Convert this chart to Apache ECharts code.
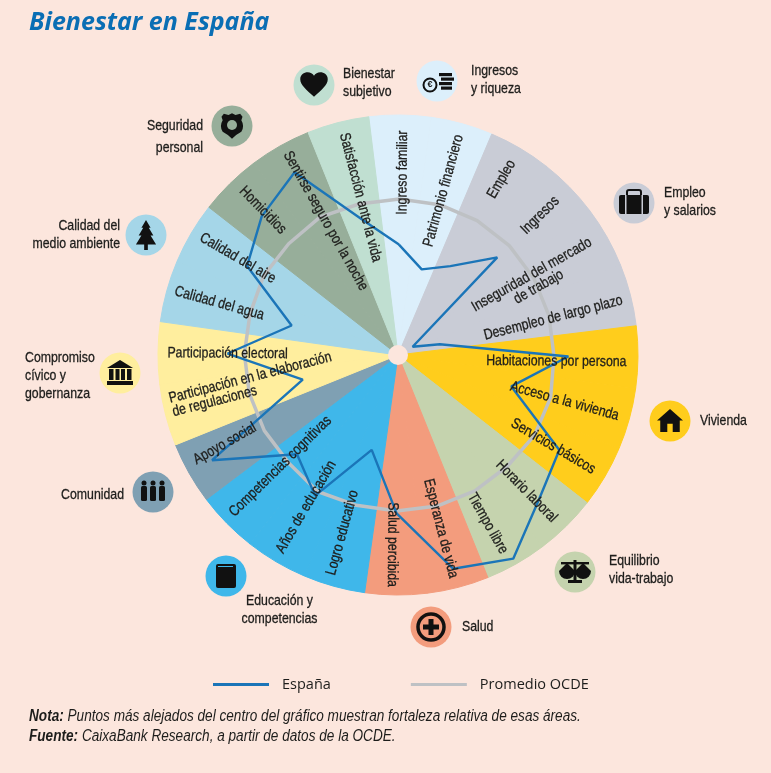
<!DOCTYPE html>
<html><head><meta charset="utf-8">
<script src="https://cdn.jsdelivr.net/npm/echarts@6/dist/echarts.min.js"></script>
<style>html,body{margin:0;padding:0;background:#FCE6DD}#c{width:771px;height:773px}</style>
</head><body><div id="c"></div>
<script>
const categories = ["Ingreso familiar","Patrimonio financiero","Empleo","Ingresos","Inseguridad del mercado\nde trabajo","Desempleo de largo plazo","Habitaciones por persona","Acceso a la vivienda","Servicios básicos","Horario laboral","Tiempo libre","Esperanza de vida","Salud percibida","Logro educativo","Años de educación","Competencias cognitivas","Apoyo social","Participación en la elaboración\nde regulaciones","Participación electoral","Calidad del agua","Calidad del aire","Homicidios","Sentirse seguro por la noche","Satisfacción ante la vida"];
const spain = [46,37,43,58,7,18,71,49,78,84,97.5,92,66,41,68,59,89,41,71,46,73,81,87.5,58];
const oecd = [65,65,65,65,65,65,65,66,66,65,65,65,65,65,66,64,64,64,64,64,65,65,66,65];
const groups = ["Ingresos y riqueza","Empleo y salarios","Vivienda","Equilibrio vida-trabajo","Salud","Educación y competencias","Comunidad","Compromiso cívico y gobernanza","Calidad del medio ambiente","Seguridad personal","Bienestar subjetivo"];
const groupSizes = [2,4,3,2,2,3,1,2,2,2,1];
const groupColors = ["#DCEFFB","#C9CCD6","#FFCD1C","#C5D3AE","#F39C7D","#3FB7EA","#7FA0B3","#FFEE9E","#A5D6E8","#97AE9A","#C0DFD1"];
const outerRing = categories.map(() => 100);
// layout of the wedge captions: radial place (same scale as the radius axis), rotation, sideways nudge in px
const labelRadius = [76,71,85,83,65,66.5,66,72,75,78,79.5,74.5,79,77.5,74,67.5,81,61.7,71,77.5,78,82.5,63.5,67.5];
const labelRotate = [89.5,74.5,59.5,44.5,29.5,14.5,-0.5,-15.5,-30.5,-45.5,-60.5,-75.5,-90.5,74.5,59.5,44.5,29.5,14.5,-0.5,-15.5,-30.5,-45.5,-60.5,-75.5];
const labelNudge = [3,0,0,0,3,3,5,0,0,4,5,2,4,-6,-2,-3,-8,-8,0,-2,-2,-5,-3,-3];
const leftAligned = {17:-103};

const colorOf = [];
groupSizes.forEach((n, g) => { for (let i = 0; i < n; i++) colorOf.push(groupColors[g]); });
const closedLoop = vals => vals.concat(vals[0]).map((v, i) => [v, i + 0.5]);

const sans = '"Liberation Sans",sans-serif';
const squeeze = 0.82;
const ink = '#1d1d1b';

let shapeCount = 0;
function P(d, x, y, w, h, bw, bh, fill) {
  const name = 'iconShape' + (shapeCount++);
  echarts.graphic.registerShape(name, echarts.graphic.extendPath(d, {}));
  return {type:name, x, y, scaleX:w/bw, scaleY:h/bh, style:{fill:fill||'#111'}};
}
function R(x,y,w,h,fill,rr){return {type:'rect',shape:{x,y,width:w,height:h,r:rr||0},style:{fill:fill||'#111'}};}
function C(cx,cy,r,fill,stroke,lw){return {type:'circle',shape:{cx,cy,r},style:{fill:fill||'#111',stroke:stroke||null,lineWidth:lw||0}};}
function icon(x,y,bg,children){
  return {type:'group',x,y,z:20,children:[C(0,0,20.5,bg)].concat(children)};
}
function text(x,y,t,align,lh){
  return {type:'text',x,y,z:20,scaleX:squeeze,style:{text:t,font:'15px '+sans,fill:ink,stroke:ink,lineWidth:0.3,align:align||'left',verticalAlign:'middle',lineHeight:lh||18}};
}
const icons = [
  icon(314,85,'#C0DFD1',[P('M12 22C6 16 1 12 1 7C1 3 4 1 7 1C9 1 11 2 12 4C13 2 15 1 17 1C20 1 23 3 23 7C23 12 18 16 12 22Z',-15,-14,30,28,24,24)]),
  icon(437,81,'#DCEFFB',[C(-7,4,6.5,'#DCEFFB','#111',2),
    {type:'text',x:-7,y:4,style:{text:'€',font:'bold 9px "Liberation Sans"',fill:'#111',align:'center',verticalAlign:'middle'}},
    R(2,-8,13,3.2),R(4,-3.5,13,3.2),R(2,1,13,3.2),R(4,5.5,11,3.2)]),
  icon(634,203,'#C9CCD6',[{type:'rect',shape:{x:-7,y:-13,width:14,height:8,r:2},style:{fill:'none',stroke:'#111',lineWidth:2}},
    R(-15,-8,30,19,'#111',2),R(-9,-8,1.5,19,'#C9CCD6'),R(7.5,-8,1.5,19,'#C9CCD6')]),
  icon(670,421,'#FFCD1C',[P('M12 1L24 12L21 12L21 23L14.5 23L14.5 15L9.5 15L9.5 23L3 23L3 12L0 12Z',-13,-13,26,25,24,24)]),
  icon(575,572,'#C5D3AE',[R(-1.5,-12,3,21),R(-14,-10,28,2.4),R(-7,8,14,3),
    P('M0 0L8 0A4 4 0 0 1 0 0Z',-16,-1,16,8,8,4),P('M0 0L8 0A4 4 0 0 1 0 0Z',0,-1,16,8,8,4),
    P('M4 0L8 8L0 8Z',-16,-9,16,8,8,8),P('M4 0L8 8L0 8Z',0,-9,16,8,8,8)]),
  icon(431,627,'#F39C7D',[C(0,0,13,'#F39C7D','#111',3.5),R(-2.5,-8,5,16),R(-8,-2.5,16,5)]),
  icon(226,576,'#3FB7EA',[R(-10,-12,20,24,'#111',2),R(-8,-10,15,1,'#3FB7EA')]),
  icon(153,492,'#7FA0B3',[C(-9,-9,2.5),C(0,-9,2.5),C(9,-9,2.5),R(-12,-6,6,15,'#111',1.5),R(-3,-6,6,15,'#111',1.5),R(6,-6,6,15,'#111',1.5)]),
  icon(120,373,'#FFEE9E',[P('M12 0L24 7L0 7Z',-13,-13,26,8,24,7),R(-11,-4,4.5,11),R(-4.5,-4,4,11),R(1,-4,4,11),R(7,-4,4.5,11),R(-13,8,26,4)]),
  icon(146,235,'#A5D6E8',[P('M12 0L17 7L15 7L20 14L17 14L23 22L14 22L14 27L10 27L10 22L1 22L7 14L4 14L9 7L7 7Z',-11,-15,22,30,24,27)]),
  icon(232,126,'#97AE9A',[P('M12 1L15 2.5L19 1.5L21 4L20 7Q23 12 20 17Q16 19 12 23Q8 19 4 17Q1 12 4 7L3 4L5 1.5L9 2.5Z',-14,-14,28,28,24,24),C(0,-1,5,'#97AE9A')])
];
const groupLabels = [
  text(343,82.5,'Bienestar\nsubjetivo'),
  text(471,80,'Ingresos\ny riqueza'),
  text(664,202,'Empleo\ny salarios'),
  text(700,421,'Vivienda'),
  text(609,570,'Equilibrio\nvida-trabajo'),
  text(462,627,'Salud'),
  text(279.5,610,'Educación y\ncompetencias','center'),
  text(124,495,'Comunidad','right'),
  text(25,376,'Compromiso\ncívico y\ngobernanza'),
  text(120,235,'Calidad del\nmedio ambiente','right'),
  text(203,137,'Seguridad\npersonal','right',22)
];
function note(y,t){
  return {type:'text',x:29,y,z:20,scaleX:0.85,style:{rich:{b:{font:'italic bold 16px '+sans,fill:ink}},text:t,font:'italic 16px '+sans,fill:ink,verticalAlign:'middle'}};
}

const chart = echarts.init(document.getElementById('c'));
chart.setOption({
  backgroundColor:'#FCE6DD',
  animation:false,
  title:{text:'Bienestar en España',left:29,top:10,padding:0,textStyle:{fontFamily:'"Open Sans",sans-serif',fontSize:25,fontWeight:'bold',fontStyle:'italic',color:'#0A6EB4'}},
  legend:{left:208,top:672,itemWidth:56,itemHeight:3,itemGap:80,icon:'rect',
    data:['España','Promedio OCDE'],
    textStyle:{fontFamily:'"Open Sans",sans-serif',fontSize:14.5,color:ink,padding:[0,0,0,8]}},
  polar:[{center:[398,355],radius:240},{center:[398,355],radius:240}],
  angleAxis:[
    {polarIndex:0,type:'category',data:categories,startAngle:97,boundaryGap:true,axisLine:{show:false},axisTick:{show:false},axisLabel:{show:false},splitLine:{show:false}},
    {polarIndex:1,type:'value',min:0.5,max:24.5,startAngle:89.5,axisLine:{show:false},axisTick:{show:false},axisLabel:{show:false},splitLine:{show:false}}
  ],
  radiusAxis:[
    {polarIndex:0,min:0,max:100,axisLine:{show:false},axisTick:{show:false},axisLabel:{show:false},splitLine:{show:false}},
    {polarIndex:1,min:0,max:100,axisLine:{show:false},axisTick:{show:false},axisLabel:{show:false},splitLine:{show:false}}
  ],
  series:[
    {type:'bar',name:'wedges',coordinateSystem:'polar',polarIndex:0,barWidth:'100%',z:1,silent:true,
      data:outerRing.map((v,i)=>({value:v,itemStyle:{color:colorOf[i],borderColor:colorOf[i],borderWidth:1}}))},
    {type:'line',name:'Promedio OCDE',coordinateSystem:'polar',polarIndex:1,data:closedLoop(oecd),clip:false,showSymbol:false,symbol:'none',z:3,
      lineStyle:{color:'#BEC1C4',width:3.5,join:'round'},itemStyle:{color:'#BEC1C4'}},
    {type:'line',name:'España',coordinateSystem:'polar',polarIndex:1,data:closedLoop(spain),clip:false,showSymbol:false,symbol:'none',z:4,
      lineStyle:{color:'#1B75B8',width:2.4},itemStyle:{color:'#1B75B8'}},
    {type:'custom',name:'captions',coordinateSystem:'polar',polarIndex:0,z:5,silent:true,
      data:categories.map((c,i)=>[labelRadius[i],i]),
      renderItem:(params,api)=>{
        const i=params.dataIndex, p=api.coord([api.value(0),api.value(1)]);
        const left=leftAligned[i];
        return {type:'text',x:p[0],y:p[1],rotation:labelRotate[i]*Math.PI/180,scaleX:squeeze,
          style:{text:categories[i],x:left||0,y:labelNudge[i],fill:ink,stroke:ink,lineWidth:0.3,font:'15px '+sans,lineHeight:14,align:left?'left':'center',verticalAlign:'middle'}};
      }}
  ],
  graphic:{elements:[
    {type:'circle',shape:{cx:398,cy:355,r:10},style:{fill:'#FCE6DD'},z:10}
  ].concat(icons,groupLabels,[
    note(717,'{b|Nota:} Puntos más alejados del centro del gráfico muestran fortaleza relativa de esas áreas.'),
    note(737,'{b|Fuente:} CaixaBank Research, a partir de datos de la OCDE.')
  ])}
});
</script></body></html>
